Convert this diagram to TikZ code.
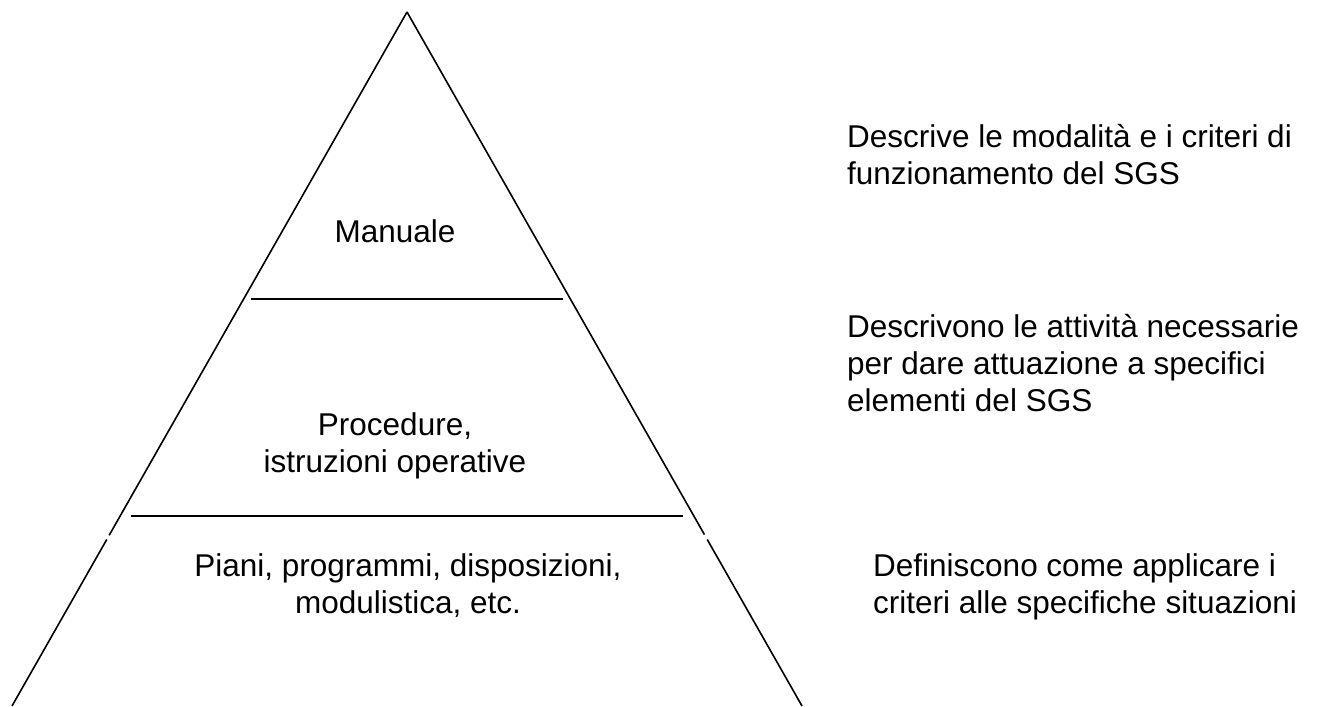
\documentclass[tikz,border=0pt]{standalone}
\usepackage{fontspec}
\setmainfont{Liberation Sans}
\usetikzlibrary{calc}
\begin{document}
\begin{tikzpicture}[x=1pt,y=-1pt,
  edge/.style={line width=1.6pt, black},
  txt/.style={inner sep=0pt, font=\fontsize{31.5}{37}\selectfont},
  txtc/.style={txt, align=center, anchor=base},
  txtl/.style={txt, align=left, anchor=base west}]
\useasboundingbox (0,0) rectangle (1321,706);

% pyramid outline
\coordinate (apex) at (407,12);
\coordinate (bl) at (12,706);
\coordinate (br) at (802,706);
\draw[edge] (apex) -- ($(apex)!0.754!(bl)$);
\draw[edge] ($(apex)!0.760!(bl)$) -- (bl);
\draw[edge] (apex) -- ($(apex)!0.753!(br)$);
\draw[edge] ($(apex)!0.760!(br)$) -- (br);

% level separators
\coordinate (s1l) at (251,299);
\coordinate (s1r) at (563,299);
\coordinate (s2l) at (131,516);
\coordinate (s2r) at (683,516);
\draw[edge] (s1l) -- (s1r);
\draw[edge] (s2l) -- (s2r);

% level names (base anchor sits on the last line)
\node[txtc] (manuale) at (395,242) {Manuale};
\node[txtc] (procedure) at (395,472) {Procedure,\\istruzioni operative};
\node[txtc] (piani) at (408,613) {Piani, programmi, disposizioni,\\modulistica, etc.};

% descriptions
\node[txtl] (desc1) at (847,184) {Descrive le modalità e i criteri di\\funzionamento del SGS};
\node[txtl] (desc2) at (847,411) {Descrivono le attività necessarie\\per dare attuazione a specifici\\elementi del SGS};
\node[txtl] (desc3) at (873,613) {Definiscono come applicare i\\criteri alle specifiche situazioni};
\end{tikzpicture}
\end{document}
